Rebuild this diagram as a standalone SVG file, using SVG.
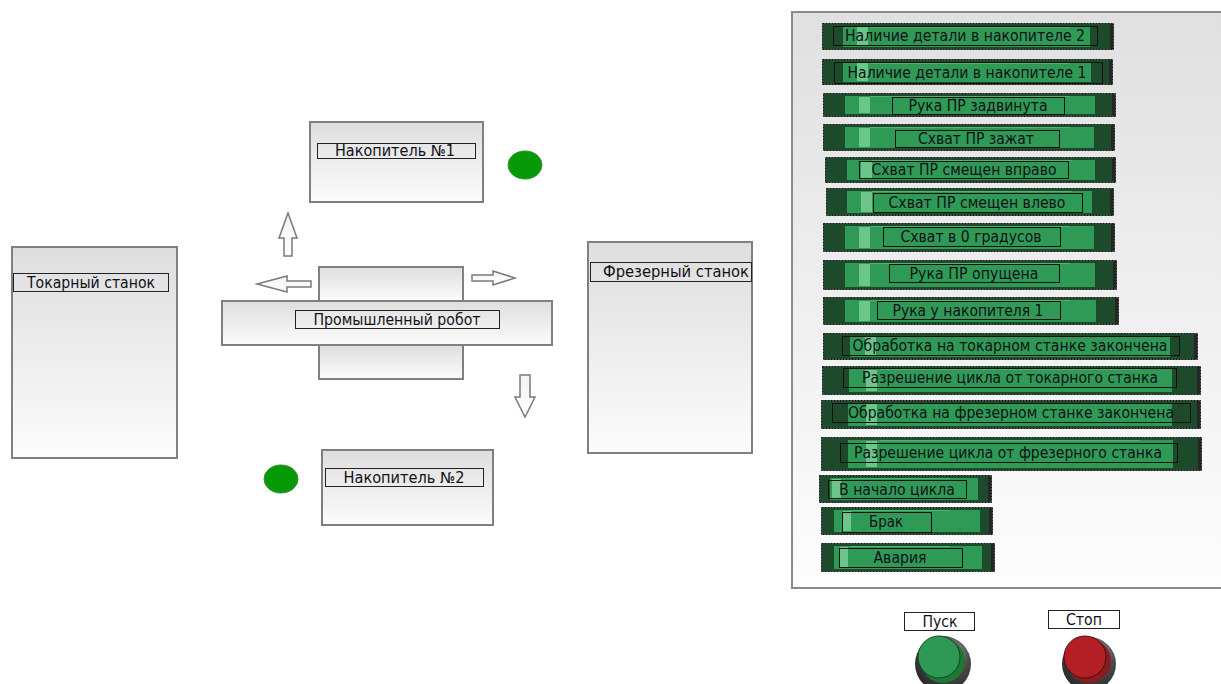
<svg xmlns="http://www.w3.org/2000/svg" width="1221" height="684" viewBox="0 0 1221 684">
<defs>
<linearGradient id="gbox" x1="0" y1="0" x2="0" y2="1">
<stop offset="0" stop-color="#dedede"/><stop offset="1" stop-color="#fcfcfc"/>
</linearGradient>
<linearGradient id="gpanel" x1="0" y1="0" x2="0" y2="1">
<stop offset="0" stop-color="#e0e0e0"/><stop offset="1" stop-color="#fdfdfd"/>
</linearGradient>
<linearGradient id="garrow" x1="0" y1="0" x2="0" y2="1">
<stop offset="0" stop-color="#f4f4f4"/><stop offset="1" stop-color="#ffffff"/>
</linearGradient>
<radialGradient id="gring" cx="0.65" cy="0.3" r="0.75">
<stop offset="0" stop-color="#a0a0a0"/><stop offset="0.45" stop-color="#4a4a4a"/><stop offset="1" stop-color="#2a2a2a"/>
</radialGradient>
<style>
.box{fill:url(#gbox);stroke:#808080;stroke-width:2}
.lbl{fill:none;stroke:#222;stroke-width:1}
.t{font-family:"DejaVu Sans",Verdana,sans-serif;font-size:15px;fill:#111118;text-anchor:middle}
.arr{fill:url(#garrow);stroke:#7a7a7a;stroke-width:1.5;stroke-linejoin:miter}
.lamp{fill:#069a06;stroke:#3c8a3c;stroke-width:1}
.bo{fill:#1c4a2b;stroke:#111;stroke-width:1;stroke-dasharray:2 1}
.bm{fill:#2f9a56}
.bl{fill:#6cc68a}
.be{fill:#262626}
.bh{fill:#4fb473}
.bt{fill:none;stroke:#111;stroke-width:1}
</style>
</defs>
<rect width="1221" height="684" fill="#ffffff"/>

<g id="lathe">
<rect class="box" x="12" y="247" width="165" height="211"/>
<rect class="lbl" x="13.5" y="273.5" width="155" height="18"/>
<text class="t" x="91" y="288" textLength="128" lengthAdjust="spacingAndGlyphs">Токарный станок</text>
</g>
<g id="mill">
<rect class="box" x="588" y="242" width="164" height="211"/>
<rect class="lbl" x="590.5" y="262.5" width="161" height="19"/>
<text class="t" x="676" y="277" textLength="146" lengthAdjust="spacingAndGlyphs">Фрезерный станок</text>
</g>
<g id="store1">
<rect class="box" x="310" y="122" width="173" height="80"/>
<rect class="lbl" x="317.5" y="143.5" width="158" height="15"/>
<text class="t" x="395" y="156" textLength="120" lengthAdjust="spacingAndGlyphs">Накопитель №1</text>
</g>
<g id="store2">
<rect class="box" x="322" y="450" width="171" height="75"/>
<rect class="lbl" x="325.5" y="468.5" width="158" height="18"/>
<text class="t" x="404" y="483" textLength="121" lengthAdjust="spacingAndGlyphs">Накопитель №2</text>
</g>
<g id="lamp1"><ellipse class="lamp" cx="525" cy="165" rx="17" ry="14"/></g>
<g id="lamp2"><ellipse class="lamp" cx="281" cy="479" rx="17" ry="14"/></g>
<g id="robot">
<rect class="box" x="319" y="267" width="144" height="34"/>
<rect class="box" x="319" y="345" width="144" height="34"/>
<rect class="box" x="222" y="301" width="330" height="44"/>
<rect class="lbl" x="295.5" y="310.5" width="204" height="18"/>
<text class="t" x="397" y="325" textLength="167" lengthAdjust="spacingAndGlyphs">Промышленный робот</text>
</g>
<g id="arrows">
<polygon class="arr" points="288,213 297,238 292,238 292,256 284,256 284,238 279,238"/>
<polygon class="arr" points="257,284 287,276 287,281 311,281 311,287 287,287 287,292"/>
<polygon class="arr" points="472,275 493,275 493,271 515,278 493,285 493,281 472,281"/>
<polygon class="arr" points="520,375 530,375 530,397 535,397 525,417 515,397 520,397"/>
</g>

<g id="panel">
<rect x="792" y="12" width="440" height="576" fill="url(#gpanel)" stroke="#8a8a8a" stroke-width="2"/>
</g>

<g id="ind1"><rect class="bo" x="822.5" y="23.5" width="291" height="26"/><rect class="bm" x="843" y="26" width="247" height="21"/><rect class="bh" x="870" y="27" width="200" height="1"/><rect class="bl" x="857" y="27" width="11" height="19"/><rect class="be" x="1110" y="24" width="3" height="25"/><rect class="bt" x="833.5" y="26.5" width="264" height="19"/><text class="t" x="965" y="41" textLength="240" lengthAdjust="spacingAndGlyphs">Наличие детали в накопителе 2</text></g>
<g id="ind2"><rect class="bo" x="822.5" y="59.5" width="290" height="25"/><rect class="bm" x="843" y="62" width="248" height="20"/><rect class="bh" x="870" y="63" width="200" height="1"/><rect class="bl" x="857" y="63" width="11" height="18"/><rect class="be" x="1109" y="60" width="3" height="24"/><rect class="bt" x="834.5" y="62.5" width="268" height="21"/><text class="t" x="967" y="78" textLength="239" lengthAdjust="spacingAndGlyphs">Наличие детали в накопителе 1</text></g>
<g id="ind3"><rect class="bo" x="823.5" y="93.5" width="292" height="23"/><rect class="bm" x="845" y="96" width="250" height="18"/><rect class="bh" x="870" y="96" width="200" height="1"/><rect class="bl" x="859" y="97" width="11" height="16"/><rect class="be" x="1112" y="94" width="3" height="22"/><rect class="bt" x="892.5" y="97.5" width="172" height="17"/><text class="t" x="978" y="111" textLength="139" lengthAdjust="spacingAndGlyphs">Рука ПР задвинута</text></g>
<g id="ind4"><rect class="bo" x="823.5" y="124.5" width="291" height="26"/><rect class="bm" x="845" y="127" width="249" height="21"/><rect class="bh" x="870" y="127" width="200" height="1"/><rect class="bl" x="859" y="128" width="11" height="19"/><rect class="be" x="1111" y="125" width="3" height="25"/><rect class="bt" x="895.5" y="130.5" width="164" height="17"/><text class="t" x="976" y="144" textLength="116" lengthAdjust="spacingAndGlyphs">Схват ПР зажат</text></g>
<g id="ind5"><rect class="bo" x="825.5" y="157.5" width="290" height="25"/><rect class="bm" x="847" y="160" width="248" height="20"/><rect class="bh" x="872" y="160" width="200" height="1"/><rect class="bl" x="861" y="161" width="11" height="18"/><rect class="be" x="1112" y="158" width="3" height="24"/><rect class="bt" x="859.5" y="161.5" width="209" height="17"/><text class="t" x="964" y="175" textLength="185" lengthAdjust="spacingAndGlyphs">Схват ПР смещен вправо</text></g>
<g id="ind6"><rect class="bo" x="826.5" y="188.5" width="287" height="27"/><rect class="bm" x="847" y="191" width="245" height="22"/><rect class="bh" x="872" y="191" width="200" height="1"/><rect class="bl" x="861" y="192" width="11" height="20"/><rect class="be" x="1110" y="189" width="3" height="26"/><rect class="bt" x="873.5" y="193.5" width="209" height="19"/><text class="t" x="977" y="208" textLength="177" lengthAdjust="spacingAndGlyphs">Схват ПР смещен влево</text></g>
<g id="ind7"><rect class="bo" x="823.5" y="223.5" width="291" height="28"/><rect class="bm" x="845" y="226" width="249" height="23"/><rect class="bh" x="870" y="226" width="200" height="1"/><rect class="bl" x="859" y="227" width="11" height="21"/><rect class="be" x="1111" y="224" width="3" height="27"/><rect class="bt" x="883.5" y="227.5" width="177" height="19"/><text class="t" x="971" y="242" textLength="141" lengthAdjust="spacingAndGlyphs">Схват в 0 градусов</text></g>
<g id="ind8"><rect class="bo" x="823.5" y="260.5" width="293" height="29"/><rect class="bm" x="845" y="263" width="250" height="24"/><rect class="bh" x="870" y="263" width="200" height="1"/><rect class="bl" x="859" y="264" width="11" height="22"/><rect class="be" x="1113" y="261" width="3" height="28"/><rect class="bt" x="889.5" y="264.5" width="170" height="18"/><text class="t" x="974" y="279" textLength="129" lengthAdjust="spacingAndGlyphs">Рука ПР опущена</text></g>
<g id="ind9"><rect class="bo" x="823.5" y="297.5" width="295" height="27"/><rect class="bm" x="845" y="300" width="251" height="22"/><rect class="bh" x="870" y="300" width="200" height="1"/><rect class="bl" x="859" y="301" width="11" height="20"/><rect class="be" x="1115" y="298" width="3" height="26"/><rect class="bt" x="877.5" y="301.5" width="183" height="18"/><text class="t" x="968" y="316" textLength="151" lengthAdjust="spacingAndGlyphs">Рука у накопителя 1</text></g>
<g id="ind10"><rect class="bo" x="823.5" y="333.5" width="374" height="26"/><rect class="bm" x="850" y="336" width="320" height="21"/><rect class="bh" x="880" y="336" width="260" height="1"/><rect class="bl" x="865" y="337" width="11" height="19"/><rect class="be" x="1194" y="334" width="3" height="25"/><rect class="bt" x="842.5" y="336.5" width="337" height="19"/><text class="t" x="1010" y="351" textLength="315" lengthAdjust="spacingAndGlyphs">Обработка на токарном станке закончена</text></g>
<g id="ind11"><rect class="bo" x="822.5" y="366.5" width="378" height="28"/><rect class="bm" x="849" y="369" width="323" height="23"/><rect class="bh" x="880" y="369" width="260" height="1"/><rect class="bl" x="866" y="370" width="11" height="21"/><rect class="be" x="1197" y="367" width="3" height="27"/><rect class="bt" x="843.5" y="368.5" width="333" height="19"/><text class="t" x="1010" y="383" textLength="296" lengthAdjust="spacingAndGlyphs">Разрешение цикла от токарного станка</text></g>
<g id="ind12"><rect class="bo" x="821.5" y="400.5" width="379" height="28"/><rect class="bm" x="848" y="403" width="324" height="23"/><rect class="bh" x="880" y="403" width="260" height="1"/><rect class="bl" x="866" y="404" width="11" height="21"/><rect class="be" x="1197" y="401" width="3" height="27"/><rect class="bt" x="832.5" y="403.5" width="358" height="19"/><text class="t" x="1011" y="418" textLength="326" lengthAdjust="spacingAndGlyphs">Обработка на фрезерном станке закончена</text></g>
<g id="ind13"><rect class="bo" x="821.5" y="437.5" width="380" height="33"/><rect class="bm" x="848" y="440" width="325" height="28"/><rect class="bh" x="880" y="440" width="260" height="1"/><rect class="bl" x="866" y="441" width="11" height="26"/><rect class="be" x="1198" y="438" width="3" height="32"/><rect class="bt" x="840.5" y="443.5" width="337" height="19"/><text class="t" x="1008" y="458" textLength="308" lengthAdjust="spacingAndGlyphs">Разрешение цикла от фрезерного станка</text></g>
<g id="ind14"><rect class="bo" x="819.5" y="475.5" width="172" height="27"/><rect class="bm" x="830" y="478" width="148" height="22"/><rect class="bh" x="850" y="478" width="100" height="1"/><rect class="bl" x="832" y="479" width="9" height="20"/><rect class="be" x="988" y="476" width="3" height="26"/><rect class="bt" x="828.5" y="480.5" width="138" height="18"/><text class="t" x="897" y="495" textLength="116" lengthAdjust="spacingAndGlyphs">В начало цикла</text></g>
<g id="ind15"><rect class="bo" x="821.5" y="507.5" width="171" height="27"/><rect class="bm" x="834" y="510" width="146" height="22"/><rect class="bh" x="850" y="510" width="100" height="1"/><rect class="bl" x="843" y="511" width="8" height="20"/><rect class="be" x="989" y="508" width="3" height="26"/><rect class="bt" x="842.5" y="512.5" width="89" height="20"/><text class="t" x="886" y="527" textLength="34" lengthAdjust="spacingAndGlyphs">Брак</text></g>
<g id="ind16"><rect class="bo" x="821.5" y="543.5" width="173" height="28"/><rect class="bm" x="834" y="546" width="148" height="23"/><rect class="bh" x="850" y="546" width="100" height="1"/><rect class="bl" x="840" y="547" width="8" height="21"/><rect class="be" x="991" y="544" width="3" height="27"/><rect class="bt" x="839.5" y="548.5" width="123" height="19"/><text class="t" x="900" y="563" textLength="53" lengthAdjust="spacingAndGlyphs">Авария</text></g>

<g id="btnStart">
<rect x="904.5" y="612.5" width="70" height="18" fill="#ffffff" stroke="#222" stroke-width="1"/>
<text class="t" x="940" y="627" textLength="35" lengthAdjust="spacingAndGlyphs">Пуск</text>
<circle cx="943" cy="664" r="28" fill="url(#gring)"/>
<circle cx="943" cy="661" r="22" fill="#1b7a32"/>
<circle cx="939" cy="657" r="21" fill="#2e9955" stroke="#1d3d25" stroke-width="1"/>
</g>
<g id="btnStop">
<rect x="1048.5" y="610.5" width="71" height="18" fill="#ffffff" stroke="#222" stroke-width="1"/>
<text class="t" x="1084" y="625" textLength="36" lengthAdjust="spacingAndGlyphs">Стоп</text>
<circle cx="1089" cy="664" r="27" fill="url(#gring)"/>
<circle cx="1089" cy="661" r="22" fill="#8a1c20"/>
<circle cx="1085" cy="657" r="21" fill="#b31f25" stroke="#4a1012" stroke-width="1"/>
</g>
</svg>
